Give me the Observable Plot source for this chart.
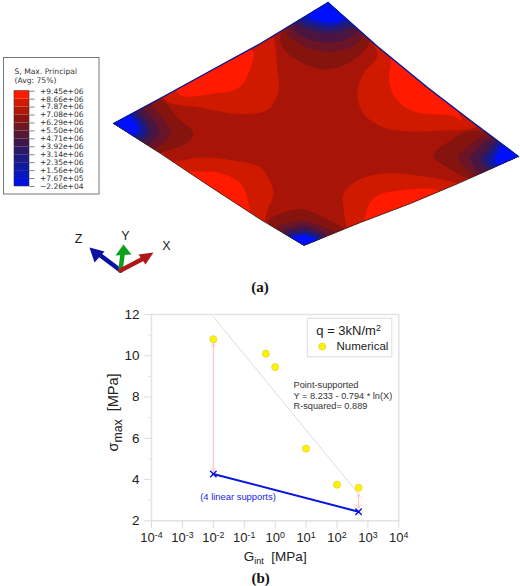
<!DOCTYPE html>
<html><head><meta charset="utf-8">
<script src="https://cdn.jsdelivr.net/npm/d3@7"></script>
<script src="https://cdn.jsdelivr.net/npm/@observablehq/plot@0.6"></script>
<style>
html,body{margin:0;padding:0;background:#fff;width:520px;height:586px;overflow:hidden}
svg{display:block;background:transparent;overflow:visible}
g.contour,g.plate{filter:blur(0.45px)}
</style></head><body><div id="a"></div><div id="b"></div>
<script>
// ---------- Panel (b) data ----------
const gintNumerical = [0.01, 0.5, 1, 10, 100, 500];
const sigmaNumerical = [10.8, 10.1, 9.45, 5.5, 3.75, 3.6];
const gintLinear = [0.01, 500];
const sigmaLinear = [4.27, 2.44];
const gintTrend = [0.01, 500];
const sigmaTrend = [11.89, 3.3];
const xTickValues = [1e-4, 1e-3, 1e-2, 1e-1, 1e0, 1e1, 1e2, 1e3, 1e4];
const xTickLabels = ["10^-4","10^-3","10^-2","10^-1","10^0","10^1","10^2","10^3","10^4"];
const yMajorTicks = [2,4,6,8,10,12];
const yMinorTicks = [3,5,7,9,11];
const fitLines = ["Point-supported","Y = 8.233 - 0.794 * ln(X)","R-squared= 0.889"];
const fitLineY = [8.56, 8.07, 7.58];

// ---------- Panel (a) data ----------
const legendValues = ["+9.45e+06","+8.66e+06","+7.87e+06","+7.08e+06","+6.29e+06","+5.50e+06","+4.71e+06","+3.92e+06","+3.14e+06","+2.35e+06","+1.56e+06","+7.67e+05","\u22122.26e+04"];
const legendColors = ["#ff1a00","#d21a00","#b01808","#8c1510","#701822","#561634","#3e164a","#2e1a62","#1e1a80","#101a9c","#0818bc","#0010e0"];
const levelColors = ["#a81508","#cf1a00","#ff1a00","#85140f","#6a1428","#4a1540","#2e1a60","#1c1a84","#0a18b8","#0010ff"];

const plateTopLeft = [[113,123],[165,95],[216,67],[260,43],[327.5,2]];
const plateTopRight = [[327.5,2],[377,46],[427,87],[470,120],[518,156]];
const plateBottomRight = [[518,156],[460,182],[410,203],[360,222],[303.5,245]];
const plateBottomLeft = [[303.5,245],[260,219],[208,185],[160,153],[113,123]];

const lobeBaseTL = [[160,90],[167,101],[200,107],[233,113],[260,112],[270,107],[278,90],[277,70],[268,30],[210,55]];
const lobeBaseBL = [[160,150],[172,160],[200,157],[233,160],[260,167],[270,182],[273,193],[267,210],[258,235],[200,205]];
const lobeBaseTR = [[372,40],[377,55],[363,73],[357,93],[363,113],[383,127],[410,131],[443,130],[470,128],[490,118],[430,70]];
const lobeBaseBR = [[352,235],[343,207],[343,193],[357,180],[383,173],[417,175],[457,183],[480,195],[420,225]];
const lobeHotTL = [[175,85],[180,95],[213,93],[237,88],[248,73],[252,50],[210,58]];
const lobeHotBL = [[180,162],[187,170],[217,172],[240,183],[248,203],[248,225],[210,205]];
const lobeHotTR = [[392,52],[390,65],[389,83],[397,100],[417,112],[455,116],[462,122],[440,85]];
const lobeHotBR = [[366,228],[367,207],[377,195],[400,190],[437,190],[445,200],[400,220]];

const cornerLeft = [
  [[157,98],[177,117],[193,133],[187,142],[167,150],[145,156],[95,123]],
  [[143,100],[160,115],[170,133],[162,143],[147,150],[95,123]],
  [[135,105],[152,118],[159,132],[152,141],[140,146],[95,123]],
  [[130,108],[145,120],[150,131],[145,139],[133,142],[95,123]],
  [[128,110],[141,120],[146,130],[141,138],[130,140],[95,123]],
  [[126,112],[137,120],[142,129],[137,135],[127,138],[95,123]],
  [[122,112],[132,118],[137,127],[133,134],[123,136],[95,123]]
];
const cornerTop = [
  [[280,35],[283,48],[297,60],[323,69],[347,63],[367,46],[370,30],[327,-15]],
  [[286,30],[297,42],[323,51],[350,47],[362,36],[327,-15]],
  [[292,26],[305,37],[327,42],[347,38],[357,28],[327,-15]],
  [[296,22],[310,29],[327,33],[343,30],[354,24],[327,-15]],
  [[300,20],[312,26],[327,29],[342,26],[352,20],[327,-15]],
  [[304,18],[315,23],[327,25],[340,23],[349,17],[327,-15]],
  [[308,15],[318,20],[328,22],[340,20],[346,13],[327,-15]]
];
const cornerRight = [
  [[473,130],[447,142],[433,155],[447,167],[473,178],[540,156]],
  [[487,135],[467,147],[458,157],[467,170],[482,178],[540,156]],
  [[492,138],[477,148],[470,158],[477,170],[488,176],[540,156]],
  [[496,141],[486,150],[480,159],[486,168],[494,174],[540,156]],
  [[498,142],[490,151],[484,159],[490,167],[497,172],[540,156]],
  [[500,144],[494,151],[490,159],[494,166],[500,170],[540,156]],
  [[503,145],[498,152],[495,159],[498,165],[504,168],[540,156]]
];
const cornerBottom = [
  [[268,222],[283,212],[303,209],[323,217],[345,232],[303,265]],
  [[277,227],[290,222],[303,220],[320,225],[335,234],[303,265]],
  [[282,231],[292,227],[303,225],[315,228],[327,236],[303,265]],
  [[285,233],[294,230],[303,228.5],[313,231],[323,237],[303,265]],
  [[288,235],[296,233],[304,231.5],[312,233],[320,238],[303,265]],
  [[290,236],[297,234],[304,233],[311,235],[318,239],[303,265]],
  [[292,237],[298,236],[304,235],[311,237],[316,241],[303,265]]
];
const triadAxes = [
  {name:"Z", color:"#0a10a0", shaft:[[120,270],[100,255]], head:[[89,247],[104,251],[94,262]], label:[78,238]},
  {name:"Y", color:"#0ca01c", shaft:[[120,270],[122,254]], head:[[123,244],[115,255],[131,254]], label:[125,235]},
  {name:"X", color:"#b01818", shaft:[[120,270],[141,259]], head:[[153,252],[138,254],[145,264]], label:[166,245]}
];

// ---------- Panel (a) ----------
const plate = [...plateTopLeft, ...plateTopRight.slice(1), ...plateBottomRight.slice(1), ...plateBottomLeft.slice(1)];
const blob = (pts, fill) => Plot.line(pts, {x:d=>d[0], y:d=>d[1], fill, stroke:"none", curve:"catmull-rom-closed", className:"contour"});
const edge = (pts, stroke, strokeWidth) => Plot.line(pts, {x:d=>d[0], y:d=>d[1], stroke, strokeWidth});
const legendRows = legendValues.map((v,i)=>({v, y:90.7+i*7.94}));
const legendBins = legendColors.map((c,i)=>({c, y1:90.7+i*7.94, y2:90.7+(i+1)*7.94}));
const legendFont = {fontFamily:"DejaVu Sans", fill:"#333"};

const top_ = Plot.plot({
  width:520, height:295, margin:0,
  x:{domain:[0,520], range:[0,520], axis:null},
  y:{domain:[0,295], range:[0,295], axis:null},
  color:{type:"identity"},
  marks:[
    Plot.line(plate, {x:d=>d[0], y:d=>d[1], fill:levelColors[0], stroke:"none", className:"plate"}),
    ...[lobeBaseTL,lobeBaseBL,lobeBaseTR,lobeBaseBR].map(p=>blob(p, levelColors[1])),
    ...[lobeHotTL,lobeHotBL,lobeHotTR,lobeHotBR].map(p=>blob(p, levelColors[2])),
    ...[cornerLeft,cornerTop,cornerRight,cornerBottom].flatMap(c=>c.map((p,i)=>blob(p, levelColors[i+3]))),
    edge(plateTopLeft,"#001a9a",1.4), edge(plateTopRight,"#001a9a",1.4),
    edge(plateBottomRight,"#222",0.7), edge(plateBottomLeft,"#222",0.7),
    // legend
    Plot.rect([0],{x1:3.5,x2:99,y1:57.5,y2:194,fill:"#fff",stroke:"#777",strokeWidth:1}),
    Plot.text(["S, Max. Principal","(Avg: 75%)"],{x:14,y:(d,i)=>[71,80.5][i],text:d=>d,textAnchor:"start",fontSize:7.6,...legendFont}),
    Plot.rect(legendBins,{x1:14,x2:29,y1:"y1",y2:"y2",fill:"c"}),
    Plot.rect([0],{x1:14,x2:29,y1:90.7,y2:186,fill:"none",stroke:"#333",strokeWidth:.6}),
    Plot.link(legendRows,{x1:29,x2:34,y1:"y",y2:"y",stroke:"#333",strokeWidth:.6}),
    Plot.text(legendRows,{x:39.5,y:"y",text:"v",textAnchor:"start",fontSize:7.5,...legendFont}),
    // triad
    ...triadAxes.flatMap(a=>[
      Plot.line(a.shaft,{x:d=>d[0],y:d=>d[1],stroke:a.color,strokeWidth:4.5}),
      Plot.line(a.head,{x:d=>d[0],y:d=>d[1],fill:a.color,stroke:"none"}),
      Plot.text([a],{x:d=>d.label[0],y:d=>d.label[1],text:"name",fontFamily:"Liberation Sans",fontSize:12.5,fill:"#222"})
    ]),
    Plot.text(["(a)"],{x:259.5,y:287,text:d=>d,fontFamily:"Liberation Serif",fontWeight:"bold",fontSize:15,fill:"#111"})
  ]
});
// keep the contour bands inside the plate outline
const ns="http://www.w3.org/2000/svg";
const defs=document.createElementNS(ns,"defs");
const cp=document.createElementNS(ns,"clipPath"); cp.setAttribute("id","plateClip");
const cpPath=document.createElementNS(ns,"path");
cpPath.setAttribute("d",top_.querySelector('g.plate path').getAttribute("d"));
cp.appendChild(cpPath); defs.appendChild(cp); top_.insertBefore(defs,top_.firstChild);
top_.querySelectorAll('g.contour').forEach(g=>g.setAttribute("clip-path","url(#plateClip)"));
document.getElementById("a").appendChild(top_);

// ---------- Panel (b) ----------
const numerical = gintNumerical.map((x,i)=>({x,y:sigmaNumerical[i]}));
const linear = gintLinear.map((x,i)=>({x,y:sigmaLinear[i]}));
const trend = gintTrend.map((x,i)=>({x,y:sigmaTrend[i]}));
const gaps = [{x:0.01,y1:10.6,y2:4.4},{x:500,y1:3.3,y2:2.6}];
const sans = "Liberation Sans";

const bottom_ = Plot.plot({
  width:520, height:291,
  marginLeft:151, marginRight:121.7, marginTop:19, marginBottom:65.7,
  style:{fontFamily:sans, background:"transparent"},
  x:{type:"log", domain:[1e-4,1e4]},
  y:{domain:[2,12]},
  marks:[
    Plot.frame({stroke:"#e2e2e2",strokeWidth:1.5}),
    Plot.axisX({ticks:xTickValues, tickFormat:(d)=>xTickLabels[xTickValues.indexOf(d)], label:null, tickSize:8, stroke:"#dcdcdc", tickPadding:4, fontSize:13, fill:"#222"}),
    Plot.axisY({ticks:yMajorTicks, tickFormat:d=>String(d), label:null, tickSize:7, stroke:"#dcdcdc", tickPadding:5, fontSize:13.5, fill:"#222"}),
    Plot.axisY({ticks:yMinorTicks, tickFormat:()=>"", label:null, tickSize:3, stroke:"#e2e2e2"}),
    Plot.line(trend,{x:"x",y:"y",stroke:"#dcdcdc",strokeWidth:1}),
    ...gaps.flatMap(g=>[
      Plot.arrow([g],{x1:"x",x2:"x",y1:"y1",y2:"y2",stroke:"#ffc4c4",strokeWidth:.9,headLength:6}),
      Plot.arrow([g],{x1:"x",x2:"x",y1:"y2",y2:"y1",stroke:"#ffc4c4",strokeWidth:.9,headLength:6})
    ]),
    Plot.line(linear,{x:"x",y:"y",stroke:"#0a14e0",strokeWidth:2}),
    Plot.dot(linear,{x:"x",y:"y",symbol:"times",r:3,stroke:"#0a14e0",strokeWidth:1.4}),
    Plot.dot(numerical,{x:"x",y:"y",r:3.6,fill:"#fff200",stroke:"#d0d040",strokeWidth:.6}),
    Plot.text(fitLines,{x:3.94,y:(d,i)=>fitLineY[i],text:d=>d,textAnchor:"start",fontSize:9.2,fill:"#333"}),
    Plot.text(["(4 linear supports)"],{x:0.00377,y:3.14,text:d=>d,textAnchor:"start",fontSize:9.4,fill:"#1a22e8"}),
    Plot.rect([0],{x1:11.4,x2:6166,y1:11.79,y2:9.93,fill:"#fff",stroke:"#e2e2e2",strokeWidth:1.2}),
    Plot.text(["q = 3kN/m^2"],{x:237,y:11.22,text:d=>d,fontSize:13,fill:"#222"}),
    Plot.dot([0],{x:33.4,y:10.45,r:3.6,fill:"#fff200",stroke:"#d0d040",strokeWidth:.6}),
    Plot.text(["Numerical"],{x:97,y:10.45,text:d=>d,fontSize:11.5,textAnchor:"start",fill:"#222"}),
    Plot.text(["sigma_max  [MPa]"],{x:6e-6,y:7.25,text:d=>d,rotate:-90,fontSize:14.5,fill:"#222"}),
    Plot.text(["G_int  [MPa]"],{x:1,y:0.27,text:d=>d,fontSize:13.5,fill:"#222"}),
    Plot.text(["(b)"],{x:0.34,y:-0.8,text:d=>d,fontFamily:"Liberation Serif",fontWeight:"bold",fontSize:15,fill:"#111"})
  ]
});
// superscripts and subscripts as real tspans
function rich(el, parts){
  el.textContent="";
  let shift=0;
  for(const [t,s,fs] of parts){
    const ts=document.createElementNS(ns,"tspan");
    ts.textContent=t;
    const dy=(s==="sup"?-4:s==="sub"?3.5:0)-shift;
    if(dy) ts.setAttribute("dy",dy);
    if(s) ts.setAttribute("font-size",fs||"0.68em");
    shift+=dy; el.appendChild(ts);
  }
}
bottom_.querySelectorAll("text").forEach(el=>{
  const t=el.textContent;
  if(/^10\^/.test(t)) rich(el,[["10",""],[t.slice(3),"sup"]]);
  else if(t==="q = 3kN/m^2") rich(el,[["q = 3kN/m",""],["2","sup"]]);
  else if(t==="sigma_max  [MPa]") rich(el,[["\u03c3",""],["max","sub","0.85em"],["  [MPa]",""]]);
  else if(t==="G_int  [MPa]") rich(el,[["G",""],["int","sub"],["  [MPa]",""]]);
});
document.getElementById("b").appendChild(bottom_);
</script></body></html>
